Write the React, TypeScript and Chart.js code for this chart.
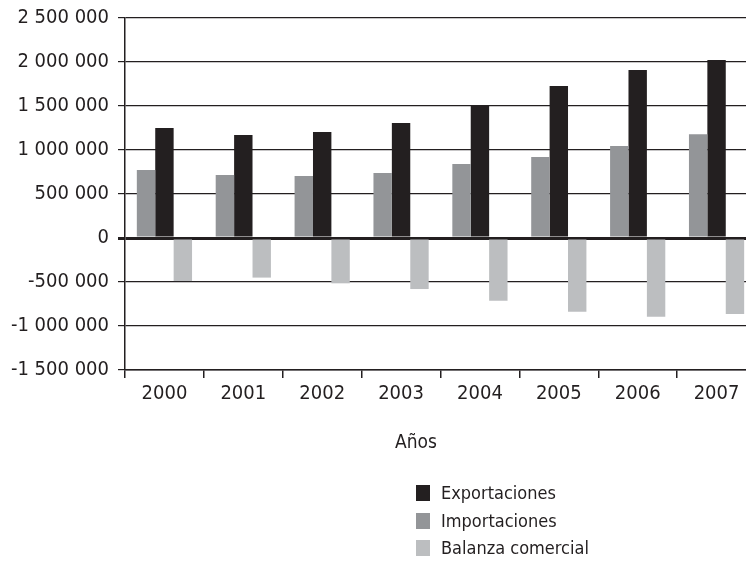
import React, { useEffect, useRef } from "react";
import { Chart, registerables } from "chart.js";

Chart.register(...registerables);

const years = ["2000", "2001", "2002", "2003", "2004", "2005", "2006", "2007"];
const exportaciones = [1250000, 1170000, 1205000, 1307000, 1511000, 1727000, 1909000, 2023000];
const importaciones = [773000, 716000, 705000, 739000, 840000, 920000, 1045000, 1180000];
const balanza = [-489000, -450000, -515000, -580000, -712000, -837000, -894000, -864000];

const seriesNames = ["Exportaciones", "Importaciones", "Balanza comercial"];
const seriesColors = ["#231f20", "#939598", "#bcbec0"];

const FONT = "'DejaVu Sans Condensed', 'Liberation Sans Narrow', sans-serif";
const INK = "#231f20";

function fmt(v: number): string {
  const s = String(Math.abs(v)).replace(/\B(?=(\d{3})+(?!\d))/g, " ");
  return (v < 0 ? "-" : "") + s;
}

export default function App() {
  const ref = useRef<HTMLCanvasElement>(null);

  useEffect(() => {
    if (!ref.current) return;
    const chart = new Chart(ref.current, {
      type: "bar",
      data: {
        labels: years,
        datasets: [
          { label: seriesNames[1], data: importaciones, backgroundColor: seriesColors[1] },
          { label: seriesNames[0], data: exportaciones, backgroundColor: seriesColors[0] },
          { label: seriesNames[2], data: balanza, backgroundColor: seriesColors[2] },
        ],
      },
      options: {
        animation: false,
        responsive: true,
        maintainAspectRatio: false,
        layout: { padding: { top: 18, right: 4, left: 0, bottom: 0 } },
        plugins: { legend: { display: false }, tooltip: { enabled: false } },
        datasets: { bar: { categoryPercentage: 0.7, barPercentage: 1.0, borderWidth: 0 } },
        scales: {
          x: {
            grid: {
              display: true,
              drawOnChartArea: false,
              drawTicks: true,
              tickLength: 8,
              color: INK,
              lineWidth: 1.5,
              offset: true,
            },
            border: { display: true, color: INK, width: 1.5 },
            ticks: { color: INK, font: { family: FONT, size: 20 }, padding: 4 },
            afterFit: (s: any) => {
              s.height = 192;
              s.paddingLeft = 0;
              s.paddingRight = 0;
            },
          },
          y: {
            min: -1500000,
            max: 2500000,
            ticks: {
              stepSize: 500000,
              color: INK,
              font: { family: FONT, size: 20 },
              padding: 9,
              callback: (v: any) => fmt(Number(v)),
            },
            grid: {
              color: INK,
              lineWidth: (ctx: any) => (ctx.tick && ctx.tick.value === 0 ? 3 : 1.2),
              tickLength: 7,
            },
            border: { display: true, color: INK, width: 1.5 },
            afterFit: (s: any) => {
              s.width = 125;
              s.paddingTop = 0;
              s.paddingBottom = 0;
            },
          },
        },
      },
    });
    return () => chart.destroy();
  }, []);

  return (
    <div
      style={{
        position: "absolute",
        left: 0,
        top: 0,
        width: 746,
        height: 562,
        overflow: "hidden",
        background: "#fff",
        fontFamily: FONT,
        color: INK,
      }}
    >
      <div style={{ position: "absolute", left: 0, top: 0, width: 760, height: 562 }}>
        <canvas ref={ref} />
      </div>
      <div
        style={{
          position: "absolute",
          left: 366,
          top: 429,
          width: 100,
          textAlign: "center",
          fontSize: 19,
          lineHeight: "25px",
        }}
      >
        Años
      </div>
      <div style={{ position: "absolute", left: 416, top: 479, display: "flex", flexDirection: "column" }}>
        {seriesNames.map((n, i) => (
          <div key={n} style={{ display: "flex", alignItems: "center", height: 27.7 }}>
            <span
              style={{
                display: "inline-block",
                width: 14,
                height: 16,
                background: seriesColors[i],
                marginRight: 11,
              }}
            />
            <span style={{ fontSize: 18, lineHeight: "27.7px", whiteSpace: "nowrap" }}>{n}</span>
          </div>
        ))}
      </div>
    </div>
  );
}
